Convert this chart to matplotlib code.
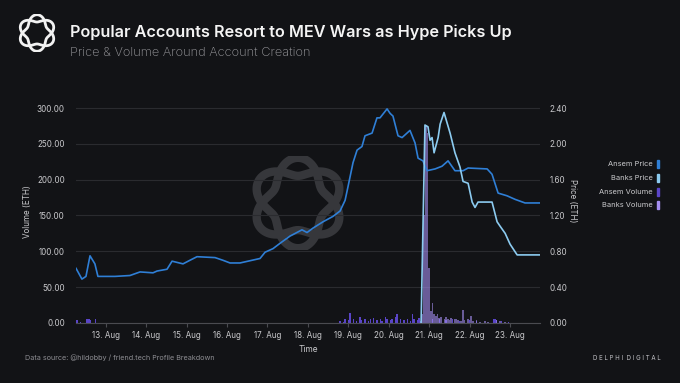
import numpy as np
import matplotlib
matplotlib.use("Agg")
import matplotlib.pyplot as plt
import matplotlib.dates as mdates
from matplotlib.patches import Rectangle
from matplotlib.ticker import FuncFormatter
import datetime as dt

plt.rcParams['font.family'] = ['Inter', 'DejaVu Sans']

# ---------------- data (hours since 12 Aug 2023 00:00) ----------------
ansem_price_hours = [6.4, 9.9, 12.3, 14.7, 17.6, 19.4, 29.5, 38.4, 44.4, 52.1, 54.5, 60.4,
                     63.4, 69.9, 74.0, 78.2, 88.9, 93.6, 97.8, 103.7, 115.6, 118.6, 123.3,
                     127.5, 133.4, 140.5, 143.5, 147.1, 153.0, 158.9, 163.1, 166.1, 167.8,
                     170.8, 173.2, 176.1, 177.9, 182.1, 185.0, 186.8, 191.0, 192.8, 194.5,
                     197.5, 199.9, 204.6, 207.6, 209.4, 212.3, 214.7, 219.5, 223.6, 227.2,
                     231.3, 236.1, 239.1, 250.4, 253.3, 256.9, 262.2, 267.0, 272.9, 281.8]
ansem_price = [0.61, 0.49, 0.52, 0.75, 0.66, 0.52, 0.52, 0.53, 0.57, 0.56, 0.58, 0.60,
               0.69, 0.66, 0.70, 0.74, 0.73, 0.70, 0.67, 0.67, 0.72, 0.79, 0.83,
               0.89, 0.97, 1.04, 1.01, 1.06, 1.13, 1.19, 1.25, 1.37, 1.52,
               1.79, 1.93, 1.97, 2.09, 2.12, 2.29, 2.29, 2.39, 2.34, 2.31,
               2.09, 2.07, 2.15, 2.01, 1.84, 1.81, 1.70, 1.72, 1.75, 1.81,
               1.70, 1.70, 1.73, 1.72, 1.66, 1.45, 1.42, 1.38, 1.34, 1.34]

banks_price_hours = [211.2, 213.5, 215.3, 216.5, 217.7, 218.9, 221.3, 222.5, 224.8, 228.4,
                     231.3, 234.3, 236.1, 239.1, 241.5, 243.2, 245.0, 253.3, 256.3, 258.1,
                     261.1, 264.0, 268.2, 274.1, 281.8]
banks_price = [0.00, 2.21, 2.19, 2.04, 2.07, 1.90, 2.07, 2.22, 2.35, 2.12,
               1.90, 1.74, 1.58, 1.56, 1.35, 1.29, 1.35, 1.35, 1.13, 1.08,
               1.00, 0.88, 0.76, 0.76, 0.76]

ansem_vol_hours = [6, 7, 9, 13, 14, 15, 18, 163, 165, 166, 168, 169, 171, 173, 175, 176,
                   178, 180, 181, 183, 185, 187, 188, 190, 191, 193, 194, 196, 197, 199,
                   201, 203, 205, 206, 207, 209, 210, 211, 218, 222, 226, 230, 234, 240,
                   244, 254, 255, 256, 259, 263]
ansem_vol = [3, 4, 2, 5, 6, 4, 5, 3, 2, 5, 4, 14, 5, 3, 8, 4,
             6, 3, 5, 7, 4, 6, 3, 9, 5, 4, 6, 8, 12, 5,
             4, 6, 3, 13, 5, 4, 7, 3, 6, 5, 4, 6, 3, 4,
             3, 5, 6, 4, 3, 2]

banks_vol_hours = [212, 213, 214, 215, 216, 217, 218, 219, 220, 221, 222, 223, 225, 226,
                   227, 228, 229, 231, 232, 233, 235, 236, 237, 239, 241, 242, 244, 246,
                   249, 251, 256, 258, 261]
banks_vol = [12, 150, 275, 265, 77, 17, 28, 12, 10, 13, 7, 9, 5, 8,
             6, 4, 7, 5, 6, 4, 3, 18, 4, 5, 10, 3, 4, 2,
             3, 2, 4, 3, 2]

base = dt.datetime(2023, 8, 12)
def to_dates(hours):
    return [base + dt.timedelta(hours=h) for h in hours]

# ---------------- style ----------------
BG = '#121316'
GRID = '#2a2b2f'
TXT = '#c9c9cc'
C_ANSEM_P = '#2f7fd6'
C_BANKS_P = '#8ccbf0'
C_ANSEM_V = '#5a45c8'
C_BANKS_V = '#a48ef0'

fig = plt.figure(figsize=(6.8, 3.83), dpi=100, facecolor=BG)
ax = fig.add_axes([0.1118, 0.1567, 0.6824, 0.58])
ax.set_facecolor(BG)
ax2 = ax.twinx()

def draw_logo(fig, rect, color, lw, zorder=0):
    lax = fig.add_axes(rect)
    lax.set_xlim(-1.3, 1.3)
    lax.set_ylim(-1.3, 1.3)
    lax.axis('off')
    lax.patch.set_alpha(0)
    t = np.linspace(0, 2 * np.pi, 600)
    for s in (1, -1):
        r = 1 + s * 0.25 * np.sin(3 * t)
        lax.plot(r * np.cos(t), r * np.sin(t), color=color, lw=lw, solid_capstyle='round')
    lax.set_zorder(zorder)
    return lax

# volume bars
w = 0.8 / 24
ax.bar(to_dates(ansem_vol_hours), ansem_vol, width=w, color=C_ANSEM_V, zorder=2)
ax.bar(to_dates(banks_vol_hours), banks_vol, width=1.0 / 24, color=C_BANKS_V, alpha=0.6,
       zorder=2, linewidth=0)

# price lines
ax2.plot(to_dates(ansem_price_hours), ansem_price, color=C_ANSEM_P, lw=1.2, zorder=3)
ax2.plot(to_dates(banks_price_hours), banks_price, color=C_BANKS_P, lw=1.2, zorder=3)

xmin = base + dt.timedelta(hours=6.4)
xmax = base + dt.timedelta(hours=281.8)
ax.set_xlim(xmin, xmax)
ax.set_ylim(0, 310)
ax2.set_ylim(0, 2.48)
ax.set_yticks([0, 50, 100, 150, 200, 250, 300])
ax2.set_yticks([0, 0.4, 0.8, 1.2, 1.6, 2.0, 2.4])
ax.yaxis.set_major_formatter(FuncFormatter(lambda v, p: f"{v:.2f}"))
ax2.yaxis.set_major_formatter(FuncFormatter(lambda v, p: f"{v:.2f}"))
ax.xaxis.set_major_locator(mdates.DayLocator())
ax.xaxis.set_major_formatter(FuncFormatter(lambda v, p: f"{mdates.num2date(v).day}. Aug"))

ax.grid(axis='y', color=GRID, lw=0.8)
ax.set_axisbelow(True)
for a in (ax, ax2):
    for s in a.spines.values():
        s.set_visible(False)
ax.spines['bottom'].set_visible(True)
ax.spines['bottom'].set_color('#4a4b50')
FS = 5.8
ax.tick_params(axis='x', colors='#4a4b50', labelcolor=TXT, labelsize=FS, length=3, pad=2.5)
ax.tick_params(axis='y', length=0, labelcolor=TXT, labelsize=FS, pad=8)
ax2.tick_params(axis='y', length=0, labelcolor=TXT, labelsize=FS, pad=7)

ax.set_ylabel('Volume (ETH)', color=TXT, fontsize=FS)
ax.yaxis.set_label_coords((32 - 76) / 464, 0.5)
ax2.set_ylabel('Price (ETH)', color=TXT, fontsize=FS, rotation=270, va='center')
ax2.yaxis.set_label_coords((572 - 76) / 464, 0.55)
ax.set_xlabel('Time', color=TXT, fontsize=FS + 0.3, labelpad=4)

draw_logo(fig, [(298 - 47) / 680, 1 - (203 + 47) / 383, 94 / 680, 94 / 383], '#36373b', 6.0, zorder=0.5)
ax.set_zorder(1)
ax2.set_zorder(2)
ax.patch.set_alpha(0)

# header
draw_logo(fig, [(37 - 19) / 680, 1 - (33 + 19) / 383, 38 / 680, 38 / 383], '#f2f2f2', 2.0, zorder=3)
fig.text(70 / 680, 1 - 32 / 383, 'Popular Accounts Resort to MEV Wars as Hype Picks Up',
         color='#f4f4f4', fontsize=11.7, fontweight='semibold', va='center', ha='left')
fig.text(70 / 680, 1 - 53 / 383, 'Price & Volume Around Account Creation',
         color='#9a9a9e', fontsize=9.2, fontweight='light', va='center', ha='left')

# legend
leg_labels = ['Ansem Price', 'Banks Price', 'Ansem Volume', 'Banks Volume']
leg_colors = [C_ANSEM_P, C_BANKS_P, C_ANSEM_V, C_BANKS_V]
for i, (lab, col) in enumerate(zip(leg_labels, leg_colors)):
    yc = 164 + i * 13.8
    fig.text(653 / 680, 1 - yc / 383, lab, color=TXT, fontsize=5.4, ha='right', va='center')
    fig.patches.append(Rectangle((656.5 / 680, 1 - (yc + 4) / 383), 2 / 680, 8 / 383,
                                 transform=fig.transFigure, color=col, figure=fig))

# footer
fig.text(25 / 680, 1 - 358 / 383, 'Data source: @hildobby / friend.tech Profile Breakdown',
         color='#8d8d92', fontsize=5.2, ha='left', va='center')
fig.text(661 / 680, 1 - 358 / 383, 'D E L P H I  D I G I T A L',
         color='#c0c0c4', fontsize=4.4, ha='right', va='center')

fig.savefig('out.png', dpi=100, facecolor=BG)
